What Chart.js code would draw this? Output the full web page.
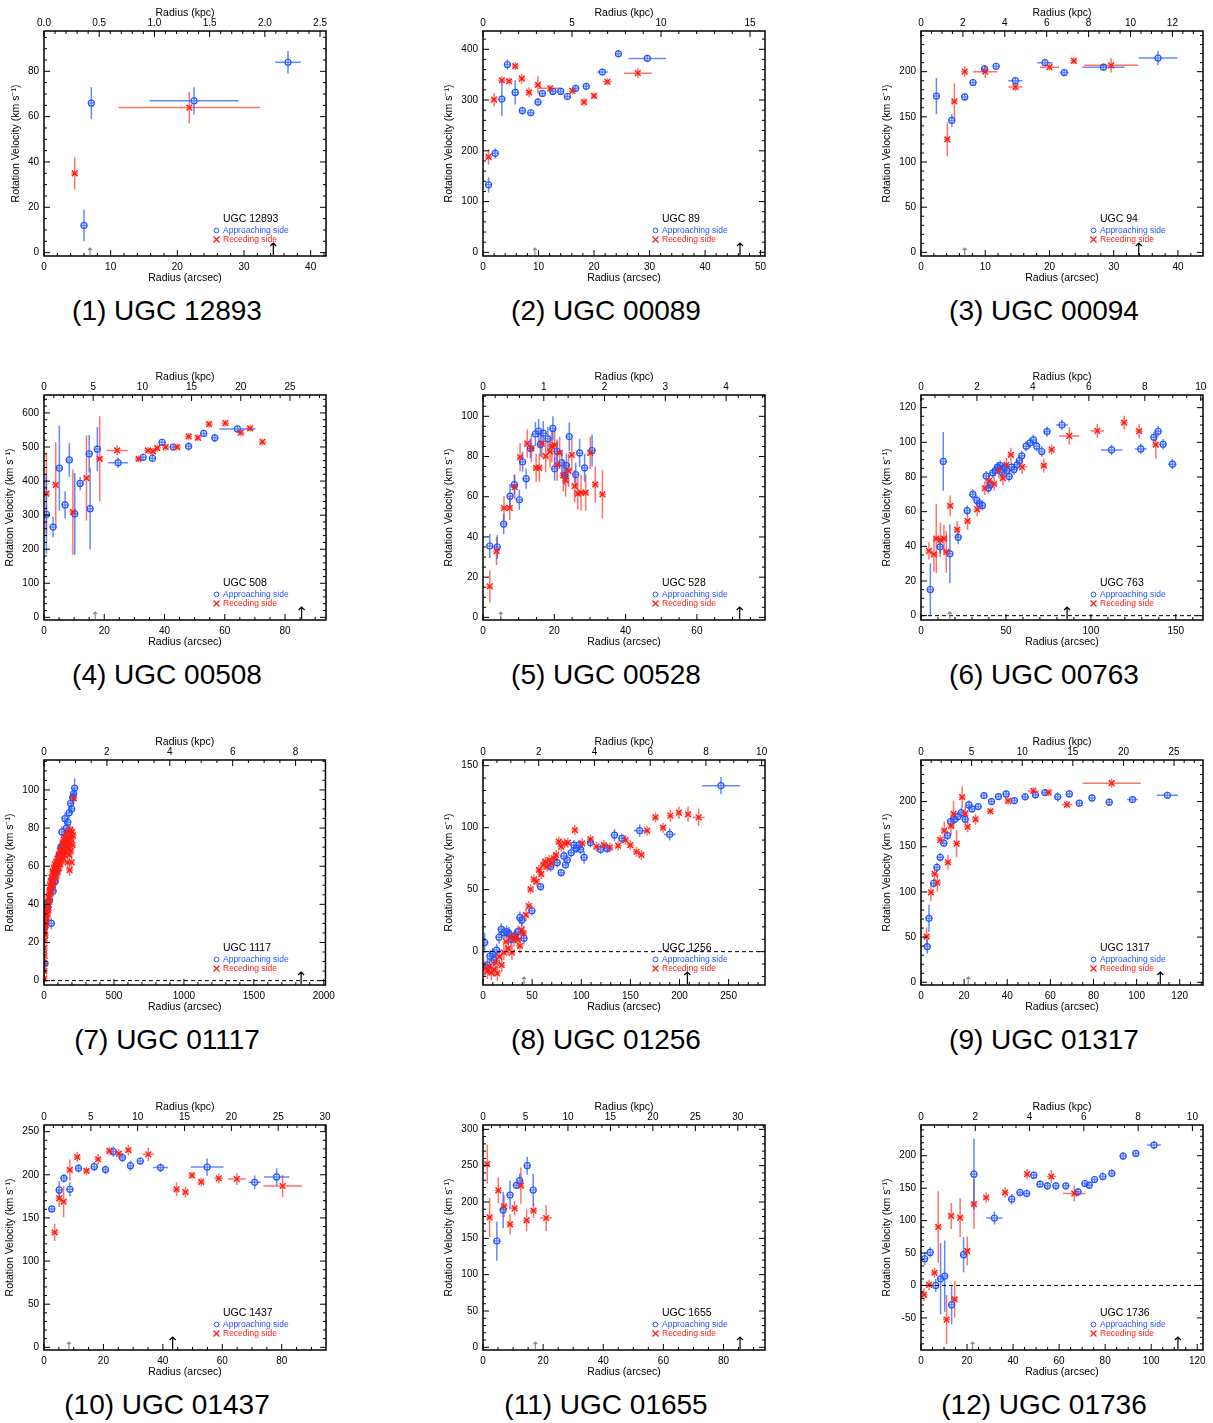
<!DOCTYPE html>
<html>
<head>
<meta charset="utf-8">
<script src="https://cdn.jsdelivr.net/npm/chart.js@4.4.1/dist/chart.umd.min.js"></script>
<style>
body { margin: 0; background: #fff; width: 1213px; height: 1423px; position: relative; overflow: hidden;
       font-family: "Liberation Sans", Helvetica, Arial, sans-serif; }
canvas { position: absolute; }
.cap { position: absolute; width: 320px; text-align: center; font-size: 28px; line-height: 34px; color: #000; }
</style>
</head>
<body>
<script>
// rows are [radius arcsec, velocity km/s, radius error, velocity error]
const p1Appr = [[6.0,12,0.3,7],[7.1,66,0.3,7],[22.5,67,6.7,6],[36.6,84,1.9,5]];
const p1Rec = [[4.6,35,0.3,7],[21.8,64,10.6,7]];

const p2Appr = [[1.0,133,0.3,15],[2.2,195,0.3,10],[3.4,302,0.3,34],[4.4,370,0.3,10],[5.8,315,0.3,24],[7.1,279,0.3,8],
  [8.6,275,0.4,5],[9.9,296,0.3,8],[10.7,313,0.4,5],[12.6,317,0.4,6],[14.0,317,0.4,5],[15.2,307,0.4,4],[16.7,323,0.6,5],
  [18.6,327,0.6,4],[21.5,355,1.0,5],[24.4,391,0.5,4],[29.6,382,3.4,4]];
const p2Rec = [[1.0,188,0.3,15],[2.0,301,0.3,13],[3.4,339,0.3,8],[4.7,337,0.4,5],[5.8,367,0.4,8],[7.0,342,0.4,10],
  [8.3,315,0.4,10],[9.9,330,0.4,17],[12.1,323,2.0,5],[16.1,318,0.6,7],[18.2,296,0.5,8],[20.0,308,0.6,7],[22.4,336,0.8,4],
  [27.9,353,2.5,10]];

const p3Appr = [[2.4,173,0.3,20],[4.8,146,0.3,7],[6.8,172,0.3,3],[8.1,188,0.4,2],[9.9,203,0.4,3],[11.7,206,0.5,2],
  [14.7,190,1.1,2],[19.3,210,1.2,2],[22.3,199,0.7,2],[28.4,205,3.3,3],[36.9,215,3.0,8]];
const p3Rec = [[4.1,125,0.3,19],[5.2,167,0.3,20],[6.8,200,0.3,6],[10.0,200,1.9,7],[14.7,183,1.1,4],[20.0,205,1.5,4],
  [23.8,212,0.5,3],[29.6,207,4.2,8]];

const p4Appr = [[0.8,302,0.3,115],[3.0,265,0.3,30],[5.1,438,0.3,125],[7.0,330,0.3,40],[8.4,462,0.3,50],[10.2,304,0.3,120],
  [12.0,393,0.3,20],[15.0,480,0.3,55],[15.3,319,0.3,120],[17.7,494,0.3,65],[24.6,454,3.3,15],[32.9,470,0.5,10],
  [36.0,467,0.5,12],[39.2,514,0.5,10],[42.9,500,0.8,10],[48.0,502,1.0,12],[53.0,540,0.5,8],[56.7,527,0.5,12],[64.2,553,6.0,10]];
const p4Rec = [[0.8,363,0.3,120],[3.9,389,0.3,125],[9.6,309,0.3,125],[14.1,409,0.3,125],[18.5,465,0.3,125],[24.3,490,3.5,15],
  [31.4,465,0.8,10],[34.5,490,0.8,10],[36.2,487,0.8,10],[37.6,497,0.8,10],[40.4,500,0.8,10],[44.2,500,1.0,10],
  [48.0,531,0.8,10],[51.1,527,0.8,10],[54.8,567,1.0,8],[60.2,570,1.2,8],[65.3,542,1.0,10],[68.4,555,1.0,10],[72.5,515,1.2,8]];

const p5Appr = [[1.9,35.5,0.3,6],[4.0,35,0.3,6],[5.8,46.4,0.3,5],[7.6,60.3,0.3,6],[8.8,66,0.3,5],[10.2,58.5,0.3,5],
  [11.1,77.4,0.3,5],[12.1,69,0.3,5],[13.3,84,0.3,5],[14.7,91.2,0.3,6],[15.6,92.7,0.3,6],[16.1,86,0.3,6],[16.9,91.6,0.3,6],
  [18.2,88.8,0.3,6],[19.6,94,0.3,6],[20.1,73.9,0.3,6],[20.8,82.5,0.3,6],[22.1,76.9,0.3,6],[22.9,70.6,0.3,5],[23.4,75.5,0.3,6],
  [24.2,89.9,0.3,7],[26.0,71,0.3,6],[27.1,81.8,0.3,7],[28.5,74.4,0.3,7],[30.6,83,0.3,8]];
const p5Rec = [[1.9,15.4,0.3,8],[3.8,33,0.3,7],[5.9,54.4,0.3,6],[7.5,54.4,0.3,6],[8.9,64.8,0.3,6],[10.4,79.7,0.3,7],
  [12.4,86.4,0.3,7],[13.6,84.1,0.3,7],[14.9,74.4,0.3,7],[15.8,74.4,0.3,7],[16.5,86.4,0.3,7],[17.6,80.2,0.3,8],
  [18.8,82.5,0.3,8],[19.3,85.1,0.3,8],[20.1,85.8,0.3,8],[20.8,75.9,0.3,8],[21.5,81.8,0.3,8],[22.5,70.6,0.3,8],
  [23.2,68.1,0.3,8],[24.0,72.9,0.3,8],[24.9,80.8,0.3,8],[25.7,65.3,0.3,8],[26.6,61.5,0.3,8],[27.5,62,0.3,9],
  [28.8,62,0.3,9],[30.1,81.8,0.3,8],[31.5,66.1,0.3,9],[33.5,61.2,0.3,12]];

const p6Appr = [[5.5,15.1,0.5,15],[11.2,39.7,0.5,4],[13.1,89,0.5,17],[17.0,35.7,0.5,17],[21.9,45.2,0.5,4],[27.2,60.6,0.5,3],
  [30.5,70,0.5,3],[32.9,66.5,0.5,3],[34.4,64.6,0.5,3],[36.2,63.6,0.5,3],[38.4,80.5,0.5,3],[39.6,73.6,0.5,3],[40.9,75.5,0.5,3],
  [42.3,82.4,0.5,3],[43.7,83.6,0.5,3],[45.0,85.7,0.5,3],[46.6,86.6,0.5,3],[47.8,82.8,0.5,3],[49.1,85.7,0.5,3],
  [50.5,83.6,0.5,3],[51.9,80.3,0.5,3],[53.3,85.7,0.5,3],[54.8,84.3,0.5,3],[56.6,87,0.5,3],[57.9,89.5,0.5,3],
  [59.3,92.2,0.5,3],[61.9,97.8,0.5,3],[64.2,99.7,0.5,3],[66.2,101.4,0.5,3],[68.1,97.8,0.5,3],[71.1,94.7,0.5,3],
  [74.2,106.2,0.5,3],[83.0,110,3.5,3],[112.2,95.6,6.4,3],[129.4,96.2,3.5,3],[137.1,102.9,1,3],[139.6,106.4,1,3],
  [142.5,98.9,1,3],[148.0,87.4,2.5,3]];
const p6Rec = [[4.7,37.4,0.5,5],[7.6,35.3,0.5,10],[9.0,44.5,0.5,20],[11.4,43.7,0.5,10],[13.5,44.5,0.5,8],[14.9,36.8,0.5,12],
  [17.2,63.3,0.5,6],[21.3,49.6,0.5,5],[27.4,54.6,0.5,5],[33.1,61.3,0.5,4],[37.6,73.6,0.5,4],[40.1,77.8,0.5,4],
  [43.1,76.1,0.5,4],[45.8,83.6,0.5,4],[48.2,79.4,0.5,4],[50.3,87,0.5,4],[52.9,92.8,0.5,4],[59.5,85.7,3,4],[72.3,86.6,1.5,4],
  [76.9,95.8,1.5,3],[87.3,103.7,6,5],[103.8,106.6,4,4],[119.6,111.4,1.5,4],[128.4,106.4,1.5,4],[138.2,98.7,1.5,8]];

const p7Appr = [[2,28,1,3],[3,33,1,3],[5,38,1,3],[7,9,1,3],[12,36,1,3],[16,40,1,3],[25,38,1,3],[40,42,1,3],[52,30,1,3],
  [65,47,1,3],[80,52,1,3],[95,58,1,3],[110,66,1,3],[120,70,1,3],[128,78,1,3],[140,72,1,3],[150,85,1,3],[160,80,1,3],
  [170,83,1,3],[180,88,1,3],[190,93,1,3],[198,90,1,3],[205,96,1,3],[212,98,1,3],[219,101,1,5]];
const p7Rec = [[2,1,1,2],[3,5,1,3],[2,9,1,3],[4,13,1,3],[3,17,1,3],[5,21,1,3],[4,25,1,3],[6,28,1,3],[8,31,1,3],[9,24,1,3],
  [11,33,1,3],[13,29,1,4],[15,35,1,3],[17,31,1,3],[19,37,1,3],[21,33,1,3],[23,39,1,3],[26,35,1,3],[28,41,1,3],[31,37,1,3],
  [33,44,1,3],[35,40,1,3],[38,47,1,3],[40,43,1,3],[43,50,1,3],[45,46,1,3],[48,52,1,3],[51,47,1,3],[53,54,1,3],[56,49,1,3],
  [59,53,1,3],[61,57,1,3],[64,50,1,3],[67,56,1,3],[70,59,1,3],[72,52,1,3],[75,57,1,3],[78,61,1,3],[81,54,1,3],[84,59,1,3],
  [87,62,1,3],[90,55,1,3],[93,60,1,3],[96,64,1,3],[99,57,1,3],[102,62,1,3],[105,66,1,3],[108,59,1,3],[111,64,1,3],
  [114,68,1,3],[117,61,1,3],[120,66,1,3],[123,70,1,3],[126,63,1,3],[129,68,1,3],[132,72,1,3],[135,64,1,3],[138,69,1,3],
  [141,74,1,3],[144,66,1,3],[147,71,1,3],[150,75,1,3],[153,67,1,3],[156,72,1,3],[159,77,1,3],[162,69,1,3],[165,74,1,3],
  [168,62,1,3],[171,78,1,3],[174,70,1,3],[177,75,1,3],[180,66,1,3],[183,58,1,3],[186,72,1,3],[189,79,1,3],[192,68,1,3],
  [195,74,1,3],[198,62,1,3],[201,78,1,3],[204,71,1,3],[208,76,1,3],[212,95.6,1,3]];

const p8Appr = [[1.7,7.3,1.2,8],[4.4,-10.8,1.2,5],[7.1,-3.5,1.2,5],[9.8,-1.9,1.2,5],[11.2,-6.7,1.2,5],[13.9,1.3,1.2,5],
  [16.3,11.6,1.2,5],[18.6,18,1.2,5],[21.3,15.3,1.2,5],[24.1,16.1,1.2,5],[26.4,14.8,1.2,5],[29.1,9.9,1.2,5],[32.2,12.6,1.2,5],
  [35.6,16.1,1.2,5],[37.6,27.4,1.2,5],[39.6,25.5,1.2,5],[41.7,10.8,1.2,5],[49.8,33,1.2,4],[58.6,52.4,1.2,3],[68.8,68.5,1.2,4],
  [75.5,71.8,1.2,4],[79.6,63.7,1.2,3],[82.3,77.2,1.2,4],[84.0,69.9,1.2,3],[85.7,73.9,1.2,3],[89.8,79.8,1.2,4],[92.5,86,1.2,4],
  [94.9,83.3,1.2,4],[97.6,86,1.2,4],[99.3,82.5,1.2,4],[102.9,76,1.2,5],[109.4,88,1.2,4],[119.6,82.5,1.2,4],[126.4,83.3,1.2,4],
  [133.8,94,1.2,5],[141.3,91.4,1.2,4],[159.5,97.6,6,5],[190,94.6,6,5],[242.2,133.9,19.5,7]];
const p8Rec = [[2.0,-13.4,1.2,6],[4.4,-16,1.2,6],[6.4,-12,1.2,6],[8.5,-17,1.2,6],[11.2,-14.2,1.2,6],[12.9,-8.9,1.2,6],
  [14.6,-17.5,1.2,6],[16.6,-4,1.2,6],[19,-10.8,1.2,6],[21.3,-0.8,1.2,6],[23.4,8,1.2,6],[25.7,2.7,1.2,6],[27.8,12,1.2,6],
  [29.5,-0.8,1.2,6],[31.5,10,1.2,6],[33.5,12.6,1.2,6],[35.6,9.4,1.2,6],[37.6,4.6,1.2,6],[39.3,17.5,1.2,6],[41.3,14.8,1.2,6],
  [43.7,29.6,1.2,5],[46.7,36.8,1.2,4],[48.4,50.3,1.2,4],[51.8,58.3,1.2,4],[54.5,56.5,1.2,4],[56.9,65.9,1.2,4],[59.3,62.6,1.2,4],
  [61.3,69.9,1.2,4],[63.3,72.6,1.2,4],[65.4,68.5,1.2,4],[67.4,73.9,1.2,4],[69.8,71.2,1.2,4],[72.2,75.3,1.2,4],[74.5,78,1.2,4],
  [77.2,88.7,1.2,4],[79.6,84.7,1.2,4],[83.0,87.4,1.2,4],[86.4,87.9,1.2,4],[93.5,98.1,1.2,4],[101,87.4,1.2,4],[109.4,90.6,1.2,4],
  [115.5,84.7,1.2,4],[123,86,1.2,4],[129.1,84.1,1.2,4],[137.5,85.5,1.2,4],[145,90,1.2,4],[150,86,1.2,4],[156.2,80.6,1.2,4],
  [161.2,78,1.2,4],[167,97.6,1.2,4],[175.5,108.3,1.5,4],[183.3,100,1.5,4],[190.7,109.7,1.5,5],[199.5,112.1,1.5,5],
  [208.7,110.8,1.5,6],[219.5,108.3,6,7]];

const p9Appr = [[2.9,39.5,0.4,8],[3.7,70.8,0.4,15],[5.9,109.6,0.4,5],[7.4,127.3,0.4,5],[8.9,138.4,0.4,5],[10.6,153.9,0.4,4],
  [12.3,162.4,0.4,5],[13.7,177.9,0.4,5],[15.6,180.4,0.4,5],[17.1,183.4,0.4,5],[18.7,187.8,0.4,5],[20.5,180.4,0.4,5],
  [22.2,196.3,0.4,5],[23.6,191.9,0.4,4],[26.5,194.5,0.5,3],[29.2,206.6,0.5,3],[32.7,200,0.5,3],[35.9,205.5,0.5,3],
  [39.5,208.5,0.5,3],[43.3,201.1,0.6,4],[48.3,205.2,0.6,4],[53.1,207.4,0.6,4],[57.5,210,0.6,3],[63.4,205.2,0.6,5],
  [68.8,208.5,0.6,3],[73.4,198.2,0.6,3],[79.3,204,0.6,3],[87.3,199.3,1.5,3],[98.1,202.2,2.5,3],[114.3,207,4.9,3]];
const p9Rec = [[2.6,50.6,0.4,10],[4.6,99.6,0.4,10],[6.3,120,0.4,8],[7.6,110.3,0.4,10],[8.9,157.6,0.4,5],[10.8,167.9,0.4,10],
  [12.5,132.8,0.4,8],[13.9,173,0.4,10],[15.1,186.3,0.4,15],[16.5,153.5,0.4,15],[19.1,205,0.4,12],[20.5,186.7,0.4,8],
  [21.6,172,0.4,6],[25.3,180.4,1.0,6],[32.2,189.3,1.0,4],[40.4,200.7,1.5,4],[52.1,211.8,2.5,4],[59.2,210,1.5,4],
  [67.7,196.7,2.5,4],[88.4,220.3,13.5,5]];

const p10Appr = [[2.6,160.4,0.4,3],[5.1,182.4,0.4,10],[6.7,195.9,0.4,5],[8.7,183.2,0.4,8],[11.6,207.5,0.4,5],[16.9,209.4,0.4,5],
  [20.7,206,0.4,5],[23.3,226.8,0.4,6],[26.4,219.9,0.4,5],[29.1,210.6,0.4,6],[32.4,216,0.4,4],[39.2,208.3,2.5,5],
  [54.9,209,5.5,10],[70.9,191.3,2.0,8],[78.3,197.5,4.3,10]];
const p10Rec = [[3.6,133.3,0.4,10],[5.1,172.7,0.4,10],[6.6,168.9,0.4,18],[8.7,205.6,0.4,12],[11.2,220.6,0.4,6],[14.3,204.4,0.4,5],
  [18.2,218,0.4,6],[22.0,227.6,0.4,5],[25.2,224.5,0.4,5],[28.4,228.7,0.4,6],[35.1,223.7,2.0,8],[44.6,183.2,0.6,8],
  [47.6,180,0.6,6],[49.8,199.4,0.6,4],[52.9,191.7,0.6,5],[58.8,195.9,1.5,6],[64.9,195.1,3.0,7],[80.3,187,6.5,13]];

const p11Appr = [[4.6,146.3,0.4,27],[6.7,189,0.4,25],[9.0,209.6,0.4,20],[11.1,223,0.4,5],[12.2,229.4,0.4,10],[14.7,250,0.4,12],
  [16.7,216.5,0.4,22]];
const p11Rec = [[1.4,252.3,0.4,27],[2.2,178.9,0.4,27],[5.1,216,0.4,18],[7.0,194,0.4,15],[9.0,169.3,0.4,14],[10.5,191.3,0.4,10],
  [12.6,222.5,0.4,25],[14.5,174.8,0.4,15],[16.8,188,0.4,10],[21.0,178,2.0,18]];

const p12Appr = [[1.6,41.2,0.4,10],[4.0,51,0.4,8],[6.4,0,0.4,10],[8.5,10.3,0.4,55],[10.3,14.4,0.4,55],[13.3,-29.9,0.4,30],
  [18.5,47.4,0.4,27],[23.0,171.6,0.4,55],[31.9,104,3.5,10],[39.4,133,0.6,8],[43.0,143.3,0.6,6],[45.9,141.8,0.6,6],
  [49.0,170,0.6,5],[51.7,156.2,0.6,6],[54.9,153.6,0.6,6],[58.6,153.6,0.6,6],[62.9,153.6,0.8,5],[68.2,144.3,1.5,6],
  [71.2,157.2,0.6,5],[73.1,154.6,0.6,5],[75.4,163.4,0.6,5],[79.0,168,0.6,6],[82.9,172.7,0.6,6],[87.8,199.5,0.8,6],
  [93.3,203.6,1.5,4],[101.2,216.5,3.0,6]];
const p12Rec = [[1.3,-14.4,0.4,10],[3.5,1,0.4,8],[5.9,19.6,0.4,8],[7.5,90.2,0.4,55],[11.1,-52.6,0.4,38],[13.1,107.2,0.4,20],
  [14.6,-21.6,0.4,28],[17.0,104.6,0.4,30],[20.1,53.1,0.4,22],[23.0,125.3,0.4,38],[28.3,135.6,1.5,8],[36.5,143.3,1.2,8],
  [46.1,171.6,1.5,8],[56.6,168,2.0,10],[66.6,141.8,4.9,12]];

const approaching = [p1Appr, p2Appr, p3Appr, p4Appr, p5Appr, p6Appr, p7Appr, p8Appr, p9Appr, p10Appr, p11Appr, p12Appr];
const receding = [p1Rec, p2Rec, p3Rec, p4Rec, p5Rec, p6Rec, p7Rec, p8Rec, p9Rec, p10Rec, p11Rec, p12Rec];

const galaxyNames = ['UGC 12893', 'UGC 89', 'UGC 94', 'UGC 508', 'UGC 528', 'UGC 763',
  'UGC 1117', 'UGC 1256', 'UGC 1317', 'UGC 1437', 'UGC 1655', 'UGC 1736'];
const captions = ['(1) UGC 12893', '(2) UGC 00089', '(3) UGC 00094', '(4) UGC 00508', '(5) UGC 00528', '(6) UGC 00763',
  '(7) UGC 01117', '(8) UGC 01256', '(9) UGC 01317', '(10) UGC 01437', '(11) UGC 01655', '(12) UGC 01736'];

const arcsecMax = [42.3, 50.8, 43.9, 93.6, 79.1, 166, 2012, 287, 130.8, 94.9, 93.8, 122.5];
const arcsecStep = [10, 10, 10, 20, 20, 50, 500, 50, 20, 20, 20, 20];
const kpcMax = [2.554, 15.84, 13.46, 28.66, 4.64, 10.08, 8.95, 10.12, 27.86, 30.1, 33.2, 10.39];
const kpcStep = [0.5, 5, 2, 5, 1, 2, 2, 2, 5, 5, 5, 2];
const velMin = [-1.5, -7.2, -4, -7.8, -1.3, -2.5, -2.3, -26.9, -3, -3.1, -3.7, -99.5];
const velMax = [97.8, 436, 245, 652.7, 110.6, 127.3, 115.7, 154.6, 246, 257.7, 306, 247.4];
const velStep = [20, 100, 50, 100, 20, 20, 20, 50, 50, 50, 50, 50];
const zeroLine = [false, false, false, false, false, true, true, true, false, false, false, true];
const grayArrow = [6.9, 9.35, 6.8, 17, 5.0, 17, null, 41.7, 21.9, 8.4, 17.4, 22.4];
const blackArrow = [34.4, 46.3, 33.9, 85.5, 72, 86, 1838, 208, 111, 43.3, 85.5, 111.6];

const FONT = '"Liberation Sans", Helvetica, Arial, sans-serif';
const BLUE = 'rgb(35,85,255)';
const BLUE_BAR = 'rgba(35,85,255,0.7)';
const RED = 'rgb(255,30,20)';
const RED_BAR = 'rgba(255,40,25,0.65)';

Chart.defaults.font.family = FONT;
Chart.defaults.font.size = 10;
Chart.defaults.color = '#000';

function minorDivs(step) {
  const m = step / Math.pow(10, Math.floor(Math.log10(step) + 1e-9));
  return Math.abs(m - 2) < 1e-6 ? 4 : 5;
}

// major tick values that fall inside [min, max]
function majorValues(min, max, step) {
  const out = [];
  for (let k = Math.ceil(min / step - 1e-9); k * step <= max + 1e-9; k++) out.push(+(k * step).toFixed(6));
  return out;
}

function tickMarks(ctx, scale, step, side, area) {
  const d = minorDivs(step);
  const ms = step / d;
  const i0 = Math.ceil(scale.min / ms - 1e-6), i1 = Math.floor(scale.max / ms + 1e-6);
  ctx.beginPath();
  for (let i = i0; i <= i1; i++) {
    const len = (((i % d) + d) % d === 0) ? 6 : 3;
    const p = scale.getPixelForValue(i * ms);
    if (side === 'bottom') { ctx.moveTo(p, area.bottom); ctx.lineTo(p, area.bottom - len); }
    if (side === 'top') { ctx.moveTo(p, area.top); ctx.lineTo(p, area.top + len); }
    if (side === 'left') { ctx.moveTo(area.left, p); ctx.lineTo(area.left + len, p); }
    if (side === 'right') { ctx.moveTo(area.right, p); ctx.lineTo(area.right - len, p); }
  }
  ctx.stroke();
}

function arrow(ctx, x, yb, h, head, color) {
  ctx.strokeStyle = color;
  ctx.lineWidth = 1.2;
  ctx.beginPath();
  ctx.moveTo(x, yb); ctx.lineTo(x, yb - h);
  ctx.moveTo(x - head, yb - h + head); ctx.lineTo(x, yb - h); ctx.lineTo(x + head, yb - h + head);
  ctx.stroke();
}

const idlFrame = {
  id: 'idlFrame',
  beforeDatasetsDraw(chart) {
    const ctx = chart.ctx, a = chart.chartArea;
    const xs = chart.scales.x, ys = chart.scales.y;
    ctx.save();
    ctx.beginPath(); ctx.rect(a.left, a.top, a.right - a.left, a.bottom - a.top); ctx.clip();
    ctx.lineWidth = 1.5;
    chart.data.datasets.forEach(ds => {
      ctx.strokeStyle = ds.barColor;
      ds.data.forEach(p => {
        const px = xs.getPixelForValue(p.x), py = ys.getPixelForValue(p.y);
        const hx = Math.max(Math.abs(xs.getPixelForValue(p.x + p.ex) - px), 3.5);
        const hy = Math.max(Math.abs(ys.getPixelForValue(p.y + p.ey) - py), 3.5);
        ctx.beginPath();
        ctx.moveTo(px - hx, py); ctx.lineTo(px + hx, py);
        ctx.moveTo(px, py - hy); ctx.lineTo(px, py + hy);
        ctx.stroke();
      });
    });
    ctx.restore();
  },
  afterDraw(chart) {
    const ctx = chart.ctx, a = chart.chartArea;
    const i = chart.options.plugins.idlFrame.panel;
    const xs = chart.scales.x, x2 = chart.scales.x2, ys = chart.scales.y;
    ctx.save();
    if (zeroLine[i]) {
      ctx.strokeStyle = '#000'; ctx.lineWidth = 1; ctx.setLineDash([4, 3]);
      const y0 = ys.getPixelForValue(0);
      ctx.beginPath(); ctx.moveTo(a.left, y0); ctx.lineTo(a.right, y0); ctx.stroke();
      ctx.setLineDash([]);
    }
    // frame and inward ticks
    ctx.strokeStyle = '#000'; ctx.lineWidth = 1.5;
    ctx.strokeRect(a.left, a.top, a.right - a.left, a.bottom - a.top);
    ctx.lineWidth = 1;
    tickMarks(ctx, xs, arcsecStep[i], 'bottom', a);
    tickMarks(ctx, x2, kpcStep[i], 'top', a);
    tickMarks(ctx, ys, velStep[i], 'left', a);
    tickMarks(ctx, ys, velStep[i], 'right', a);
    // arrows
    if (grayArrow[i] !== null) arrow(ctx, xs.getPixelForValue(grayArrow[i]), a.bottom - 1, 7, 2, '#8c8c8c');
    arrow(ctx, xs.getPixelForValue(blackArrow[i]), a.bottom - 1, 12, 3, '#000');
    // inline legend
    const lx = a.left + 179, ly = a.top + 188;
    ctx.textAlign = 'left'; ctx.textBaseline = 'middle';
    ctx.fillStyle = '#000'; ctx.font = '10.5px ' + FONT;
    ctx.fillText(galaxyNames[i], lx, ly);
    ctx.font = '8.5px ' + FONT;
    ctx.strokeStyle = BLUE; ctx.lineWidth = 1;
    ctx.beginPath(); ctx.arc(lx - 6.5, ly + 11.5, 2.4, 0, Math.PI * 2); ctx.stroke();
    ctx.fillStyle = BLUE; ctx.fillText('Approaching side', lx, ly + 11.5);
    ctx.strokeStyle = RED; ctx.lineWidth = 1.3;
    ctx.beginPath();
    ctx.moveTo(lx - 9.5, ly + 17.5); ctx.lineTo(lx - 3.5, ly + 23.5);
    ctx.moveTo(lx - 3.5, ly + 17.5); ctx.lineTo(lx - 9.5, ly + 23.5);
    ctx.stroke();
    ctx.fillStyle = RED; ctx.fillText('Receding side', lx, ly + 20.5);
    ctx.restore();
  }
};

const colLeft = [44, 483, 921];
const rowTop = [31, 395, 760, 1125];

function toPoints(rows) {
  return rows.map(r => ({ x: r[0], y: r[1], ex: r[2], ey: r[3] }));
}

function fmt(step) {
  const dec = step < 1 ? 1 : 0;
  return v => dec ? v.toFixed(dec) : String(Math.round(v));
}

function fixedTicks(min, max, step) {
  const vals = majorValues(min, max, step);
  return s => { s.ticks = vals.map(v => ({ value: v })); };
}

for (let i = 0; i < 12; i++) {
  const L = colLeft[i % 3], T = rowTop[Math.floor(i / 3)];
  const cv = document.createElement('canvas');
  cv.width = 340; cv.height = 290;
  cv.style.left = (L - 44) + 'px';
  cv.style.top = (T - 31) + 'px';
  document.body.appendChild(cv);

  const cap = document.createElement('div');
  cap.className = 'cap';
  cap.textContent = captions[i];
  cap.style.left = (L + 123 - 160) + 'px';
  cap.style.top = (T + 280 - 17) + 'px';
  document.body.appendChild(cap);

  const yVals = majorValues(velMin[i], velMax[i], velStep[i]);
  const wide = Math.max(...yVals.map(v => String(v).length)) >= 3;

  new Chart(cv, {
    type: 'scatter',
    data: {
      datasets: [
        { label: 'Receding side', data: toPoints(receding[i]), pointStyle: 'crossRot', pointRadius: 4,
          pointBorderWidth: 1.5, borderColor: RED, backgroundColor: RED, barColor: RED_BAR },
        { label: 'Approaching side', data: toPoints(approaching[i]), pointStyle: 'circle', pointRadius: 3,
          pointBorderWidth: 1.2, borderColor: BLUE, backgroundColor: 'rgba(0,0,0,0)', barColor: BLUE_BAR }
      ]
    },
    options: {
      responsive: false,
      animation: false,
      devicePixelRatio: 1,
      layout: { padding: { left: 0, right: 14, top: 0, bottom: 0 } },
      plugins: { legend: { display: false }, tooltip: { enabled: false }, idlFrame: { panel: i } },
      scales: {
        x: {
          type: 'linear', position: 'bottom', min: 0, max: arcsecMax[i],
          afterBuildTicks: fixedTicks(0, arcsecMax[i], arcsecStep[i]),
          afterFit: s => { s.height = 34; },
          grid: { display: false, drawTicks: false }, border: { display: false },
          ticks: { autoSkip: false, maxRotation: 0, padding: 5, callback: fmt(arcsecStep[i]) },
          title: { display: true, text: 'Radius (arcsec)', font: { size: 10.5 }, padding: { top: 0, bottom: 6 } }
        },
        x2: {
          type: 'linear', position: 'top', min: 0, max: kpcMax[i],
          afterBuildTicks: fixedTicks(0, kpcMax[i], kpcStep[i]),
          afterFit: s => { s.height = 31; },
          grid: { display: false, drawTicks: false }, border: { display: false },
          ticks: { autoSkip: false, maxRotation: 0, padding: 2, callback: fmt(kpcStep[i]) },
          title: { display: true, text: 'Radius (kpc)', font: { size: 10.5 }, padding: { top: 7, bottom: 0 } }
        },
        y: {
          type: 'linear', position: 'left', min: velMin[i], max: velMax[i],
          afterBuildTicks: fixedTicks(velMin[i], velMax[i], velStep[i]),
          afterFit: s => { s.width = 44; },
          grid: { display: false, drawTicks: false }, border: { display: false },
          ticks: { autoSkip: false, padding: 5, callback: fmt(velStep[i]) },
          title: { display: true, text: 'Rotation Velocity (km s\u207B\u00B9)', font: { size: 10.5 },
                   padding: { top: wide ? 4 : 10, bottom: 0 } }
        }
      }
    },
    plugins: [idlFrame]
  });
}
</script>
</body>
</html>
